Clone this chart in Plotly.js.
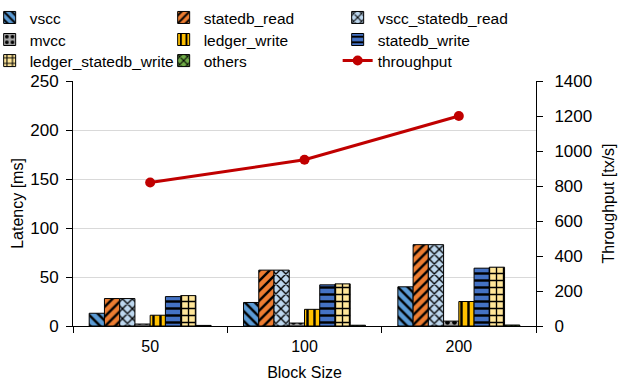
<!DOCTYPE html>
<html>
<head>
<meta charset="utf-8">
<script src="https://cdn.plot.ly/plotly-3.0.1.min.js"></script>
<style>html,body{margin:0;padding:0;background:#fff;}#chart{width:624px;height:384px;}</style>
</head>
<body>
<div id="chart"></div>
<script>
var categories = ["50", "100", "200"];
var vscc = [13, 24, 40];
var statedb_read = [28, 57, 83];
var vscc_statedb_read = [28, 57, 83];
var mvcc = [2, 3, 5];
var ledger_write = [11, 17, 25];
var statedb_write = [30, 42, 59];
var ledger_statedb_write = [31, 43, 60];
var others = [0.6, 0.8, 1];
var throughput = [820, 950, 1200];

var seriesNames = ["vscc", "statedb_read", "vscc_statedb_read", "mvcc", "ledger_write", "statedb_write", "ledger_statedb_write", "others"];
var seriesValues = [vscc, statedb_read, vscc_statedb_read, mvcc, ledger_write, statedb_write, ledger_statedb_write, others];
var fills = ["#5B9BD5", "#ED7D31", "#BDD7EE", "#A5A5A5", "#FFC000", "#4472C4", "#FFE699", "#70AD47"];
var shapes = ["\\", "/", "x", ".", "|", "-", "+", "x"];
var legendRow = ["legend", "legend", "legend", "legend2", "legend2", "legend2", "legend3", "legend3"];

var traces = seriesNames.map(function (n, i) {
  return {
    type: "bar", name: n, x: categories, y: seriesValues[i], legend: legendRow[i],
    marker: {
      color: fills[i],
      line: {color: "#000", width: 1},
      pattern: {shape: shapes[i], fgcolor: "#000", bgcolor: fills[i], size: 7, solidity: 0.35}
    }
  };
});
traces.push({
  type: "scatter", mode: "lines+markers", name: "throughput", x: categories, y: throughput,
  yaxis: "y2", legend: "legend3", line: {color: "#C00000", width: 3}, marker: {color: "#C00000", size: 10}
});

var fam = "'Liberation Sans', Arial, sans-serif";
function leg(y) {
  return {orientation: "h", x: -0.18, xanchor: "left", y: y, yanchor: "top",
          entrywidth: 129, entrywidthmode: "pixels", font: {family: fam, size: 15.5, color: "#000"},
          traceorder: "normal", tracegroupgap: 0, itemwidth: 30, bgcolor: "rgba(0,0,0,0)"};
}
var layout = {
  width: 624, height: 384,
  margin: {l: 73, r: 88, t: 81, b: 58, autoexpand: false},
  paper_bgcolor: "#fff", plot_bgcolor: "#fff",
  font: {family: fam, size: 16, color: "#000"},
  barmode: "group", bargap: 0.21, bargroupgap: 0,
  showlegend: true,
  legend: leg(1.327), legend2: leg(1.237), legend3: leg(1.151),
  xaxis: {type: "category", showline: true, linecolor: "#000", linewidth: 1,
          ticks: "outside", tickson: "boundaries", ticklen: 6, tickcolor: "#000",
          ticklabelstandoff: 6,
          title: {text: "Block Size", font: {size: 16}, standoff: 12}, showgrid: false,
          tickfont: {size: 16}},
  yaxis: {range: [0, 250], dtick: 50, showline: true, linecolor: "#000", linewidth: 1,
          ticks: "outside", ticklen: 6, tickcolor: "#000", showgrid: true, gridcolor: "#D9D9D9",
          ticklabelstandoff: 4,
          zeroline: false, title: {text: "Latency [ms]", font: {size: 16}, standoff: 2},
          tickfont: {size: 17}},
  yaxis2: {range: [0, 1400], dtick: 200, overlaying: "y", side: "right", showline: true,
           linecolor: "#000", linewidth: 1, ticks: "outside", ticklen: 6, tickcolor: "#000",
           ticklabelstandoff: 8,
           showgrid: false, zeroline: false, title: {text: "Throughput [tx/s]", font: {size: 16}, standoff: 11},
           tickfont: {size: 17}}
};
Plotly.newPlot("chart", traces, layout, {displayModeBar: false, staticPlot: true});
</script>
</body>
</html>
